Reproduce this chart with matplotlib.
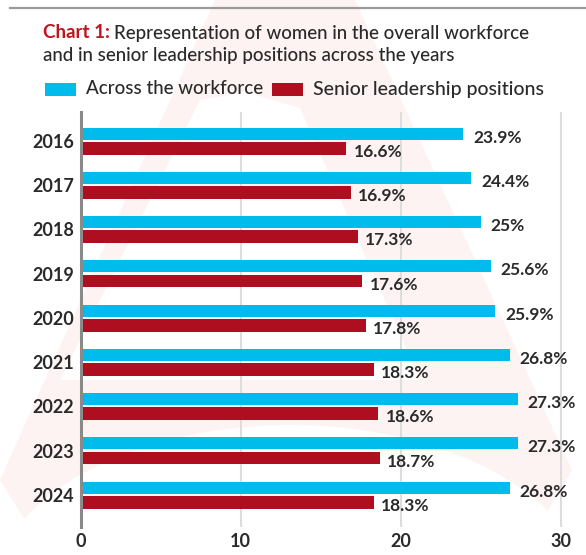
import matplotlib
matplotlib.use('Agg')
from matplotlib import pyplot as plt
from matplotlib.patches import Polygon, Ellipse, Rectangle
import numpy as np

years = ['2016', '2017', '2018', '2019', '2020', '2021', '2022', '2023', '2024']
workforce = [23.9, 24.4, 25, 25.6, 25.9, 26.8, 27.3, 27.3, 26.8]
leadership = [16.6, 16.9, 17.3, 17.6, 17.8, 18.3, 18.6, 18.7, 18.3]
x_ticks = [0, 10, 20, 30]

BLUE = '#00bcec'
RED = '#ae0e1f'
TXT = '#2a2a2a'
W, H = 586, 555

num_font = ['Lato', 'DejaVu Sans']
title_font = ['Lato', 'DejaVu Sans']


def fx(x):
    return x / W


def fy(y):
    return 1 - y / H


fig = plt.figure(figsize=(W / 100, H / 100), dpi=100)

# faint watermark "A" behind the chart
outer = [(215, 0), (355, 0), (572, 470), (545, 515), (25, 520), (0, 480)]
hole = [(200, 100), (245, 92), (300, 108), (420, 380), (60, 380)]
fig.add_artist(Polygon([(fx(a), fy(b)) for a, b in outer], closed=True,
                       transform=fig.transFigure, color='#fef3f3', lw=0, zorder=-3))
fig.add_artist(Polygon([(fx(a), fy(b)) for a, b in hole], closed=True,
                       transform=fig.transFigure, color='white', lw=0, zorder=-2))
fig.add_artist(Ellipse((fx(290), fy(600)), 600 / W, 350 / H,
                       transform=fig.transFigure, color='white', lw=0, zorder=-2))

# rule at the top
fig.add_artist(plt.Line2D([fx(10), 1], [fy(8), fy(8)], transform=fig.transFigure,
                          color='#9a9a9a', lw=1.6))

ax = fig.add_axes([fx(80.5), fy(527), (577 - 80.5) / W, (527 - 112) / H])
ax.set_facecolor('none')

y = np.arange(len(years))
ax.barh(y - 0.164, workforce, height=0.27, color=BLUE, zorder=3)
ax.barh(y + 0.164, leadership, height=0.29, color=RED, zorder=3)

for i in range(len(years)):
    ax.text(workforce[i] + 0.6, y[i] - 0.164 + 0.09, f'{workforce[i]:g}%', va='center',
            ha='left', fontsize=12.5, fontweight='bold', color=TXT, family=num_font)
    ax.text(leadership[i] + 0.45, y[i] + 0.164 + 0.08, f'{leadership[i]:g}%', va='center',
            ha='left', fontsize=12.5, fontweight='bold', color=TXT, family=num_font)

ax.set_xlim(0, 31)
ax.set_ylim(8.724, -0.655)
ax.set_yticks(y)
ax.set_yticklabels(years)
ax.set_xticks(x_ticks)
ax.set_xticklabels([str(t) for t in x_ticks])
ax.xaxis.grid(True, color='#dddddd', lw=1.5)
ax.set_axisbelow(True)
for s in ['top', 'right', 'bottom']:
    ax.spines[s].set_visible(False)
ax.spines['left'].set_color('#8a8a8a')
ax.spines['left'].set_linewidth(2.2)
ax.spines['left'].set_zorder(4)
ax.tick_params(length=0, pad=4.5)
for lab in ax.get_yticklabels() + ax.get_xticklabels():
    lab.set_family(num_font)
    lab.set_fontweight('bold')
    lab.set_fontsize(13)
    lab.set_color(TXT)

# title with red lead-in
renderer = fig.canvas.get_renderer()
t1 = fig.text(fx(43), fy(33), 'Chart 1:', color='#c0141f', fontsize=13.5, fontweight='bold',
              family=title_font, va='center', ha='left')
w1 = t1.get_window_extent(renderer).width
fig.text(fx(43 + w1 + 4), fy(33), 'Representation of women in the overall workforce',
         color=TXT, fontsize=13.5, fontweight='medium', family=title_font, va='center', ha='left')
fig.text(fx(43), fy(55), 'and in senior leadership positions across the years',
         color=TXT, fontsize=13.5, fontweight='medium', family=title_font, va='center', ha='left')

# legend
fig.add_artist(Rectangle((fx(45), fy(96)), 31 / W, 13 / H, transform=fig.transFigure,
                         color=BLUE, lw=0))
fig.text(fx(86), fy(89), 'Across the workforce', color=TXT, fontsize=13.5, fontweight='medium',
         family=title_font, va='center', ha='left')
fig.add_artist(Rectangle((fx(272), fy(96)), 31 / W, 13 / H, transform=fig.transFigure,
                         color=RED, lw=0))
fig.text(fx(313), fy(89), 'Senior leadership positions', color=TXT, fontsize=14,
         fontweight='medium', family=title_font, va='center', ha='left')

fig.savefig('out.png', dpi=100)
